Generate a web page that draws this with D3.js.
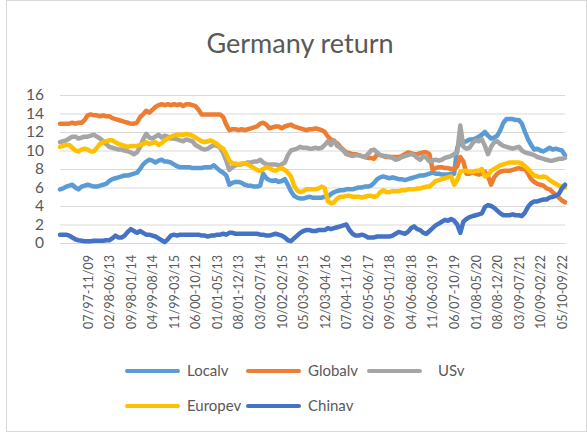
<!DOCTYPE html>
<html><head><meta charset="utf-8">
<script src="https://cdn.jsdelivr.net/npm/d3@7"></script>
<style>
html,body{margin:0;padding:0;background:#fff;}
svg{display:block;font-family:Lato,"Open Sans",sans-serif;}
</style></head>
<body>
<svg id="chart" width="587" height="432"></svg>
<script>
const title = "Germany return";
const seriesNames = ["Localv","Globalv","USv","Europev","Chinav"];
const seriesColors = ["#5B9BD5","#ED7D31","#A5A5A5","#FFC000","#4472C4"];
const tickLabels = ["07/97-11/09","02/98-06/13","09/98-01/14","04/99-08/14","11/99-03/15","06/00-10/12","01/01-05/13","08/01-12/13","03/02-07/14","10/02-02/15","05/03-09/15","12/03-04/16","07/04-11/16","02/05-06/17","09/05-01/18","04/06-08/18","11/06-03/19","06/07-10/19","01/08-05/20","08/08-12/20","03/09-07/21","10/09-02/22","05/10-09/22"];
const firstLabelIndex = 9, labelEvery = 7;
const yTicks = [0,2,4,6,8,10,12,14,16];

const Localv = [5.8,5.9,6.1,6.2,6.3,6.0,5.8,6.1,6.2,6.3,
6.2,6.1,6.1,6.2,6.3,6.4,6.7,6.9,7.0,7.1,
7.2,7.3,7.3,7.4,7.5,7.6,8.0,8.5,8.8,9.0,
8.9,8.7,8.9,9.0,8.8,8.8,8.7,8.5,8.3,8.2,
8.2,8.2,8.2,8.1,8.1,8.1,8.1,8.2,8.2,8.2,
8.4,8.1,7.8,7.6,7.3,6.3,6.5,6.6,6.6,6.5,
6.3,6.2,6.2,6.1,6.1,6.2,7.5,7.0,6.8,6.7,
6.8,6.6,6.7,6.9,6.3,5.6,5.1,4.9,4.8,4.8,
4.9,5.0,4.9,4.9,4.9,4.9,5.0,5.0,5.3,5.5,
5.6,5.7,5.7,5.8,5.8,5.8,5.9,6.0,6.0,6.1,
6.1,6.2,6.5,6.9,7.1,7.2,7.1,7.0,7.1,7.0,
6.9,6.9,6.8,6.9,7.0,7.1,7.2,7.3,7.3,7.4,
7.5,7.6,7.5,7.5,7.4,7.4,7.4,7.5,7.5,10.3,
10.8,10.9,11.0,11.2,11.2,11.3,11.5,11.7,12.0,11.6,
11.3,11.4,11.6,12.2,13.0,13.4,13.4,13.4,13.3,13.3,
12.9,12.0,11.2,10.6,10.1,10.2,10.0,9.9,10.1,10.3,
10.1,10.2,10.1,10.0,9.5];

const Globalv = [12.9,12.9,12.9,12.9,13.0,12.9,13.0,13.0,13.3,13.8,
13.9,13.8,13.8,13.7,13.8,13.7,13.7,13.5,13.4,13.3,
13.2,13.1,13.0,12.9,12.9,13.0,13.6,13.9,14.3,14.1,
14.4,14.7,14.9,15.0,14.9,15.0,14.9,15.0,14.9,15.0,
14.8,15.0,15.0,14.9,14.8,14.4,13.9,13.9,13.9,13.9,
13.9,13.9,13.9,13.6,12.8,12.2,12.3,12.3,12.2,12.3,
12.2,12.3,12.4,12.5,12.6,12.9,13.0,12.8,12.4,12.5,
12.6,12.6,12.4,12.6,12.7,12.8,12.6,12.5,12.4,12.3,
12.2,12.3,12.3,12.4,12.3,12.2,12.0,11.5,11.2,11.0,
10.8,10.4,10.1,9.8,9.7,9.6,9.6,9.5,9.4,9.3,
9.2,9.2,9.1,9.6,9.5,9.4,9.3,9.3,9.3,9.3,
9.3,9.4,9.6,9.8,9.7,9.6,9.6,9.7,9.8,9.8,
9.6,7.9,8.1,8.2,8.2,8.1,8.1,8.0,8.0,8.3,
9.3,8.8,7.5,7.5,7.6,7.5,7.4,7.5,7.7,7.2,
6.3,7.1,7.5,7.7,7.8,7.8,7.8,7.9,8.0,8.1,
8.0,8.0,7.5,6.9,6.6,6.4,6.3,6.2,5.9,5.8,
5.5,5.2,4.9,4.6,4.4];

const USv = [10.9,11.0,11.1,11.3,11.5,11.5,11.3,11.4,11.5,11.5,
11.6,11.7,11.5,11.3,11.0,10.7,10.4,10.3,10.2,10.1,
10.1,10.0,9.9,9.8,9.6,9.8,10.4,11.2,11.8,11.4,
11.3,11.5,11.7,11.4,11.6,11.5,11.3,11.3,11.2,11.1,
11.0,11.2,11.1,11.0,10.6,10.4,10.2,10.1,10.2,10.4,
10.6,10.5,10.3,9.7,8.9,7.9,8.2,8.4,8.5,8.5,
8.6,8.7,8.7,8.8,8.8,9.0,8.7,8.5,8.5,8.5,
8.5,8.4,8.5,8.7,9.5,10.0,10.1,10.2,10.4,10.3,
10.3,10.2,10.2,10.3,10.2,10.3,10.6,11.0,10.6,11.1,
10.5,10.3,10.0,9.6,9.5,9.4,9.5,9.5,9.4,9.3,
9.6,10.0,10.1,9.8,9.5,9.4,9.4,9.3,9.2,9.0,
9.1,9.3,9.4,9.5,9.6,9.5,9.2,9.0,9.4,9.2,
8.8,8.9,9.0,8.9,9.0,9.2,9.3,9.4,9.6,9.8,
12.7,10.4,10.2,10.3,10.8,11.1,11.0,11.2,10.5,9.6,
10.4,10.9,11.0,10.7,10.5,10.4,10.3,10.2,10.3,10.4,
10.0,9.8,9.7,9.6,9.5,9.3,9.2,9.1,9.0,8.9,
8.9,9.0,9.1,9.1,9.2];

const Europev = [10.4,10.5,10.6,10.6,10.3,10.0,9.9,10.1,10.2,10.1,
9.9,9.9,10.3,10.7,10.9,11.0,11.1,11.1,10.9,10.7,
10.6,10.5,10.4,10.5,10.5,10.5,10.6,10.7,10.9,10.7,
10.8,10.9,10.6,10.8,11.1,11.3,11.5,11.6,11.7,11.7,
11.7,11.8,11.7,11.6,11.4,11.2,11.0,10.9,11.0,11.1,
10.9,10.7,10.4,10.2,9.6,8.9,8.6,8.6,8.5,8.6,
8.6,8.5,8.3,8.1,7.9,7.8,8.0,8.2,8.1,7.9,
7.8,8.0,8.1,7.9,7.6,7.2,6.2,5.7,5.5,5.6,
5.8,5.8,5.8,5.8,5.9,6.1,5.9,4.5,4.3,4.4,
4.8,5.0,5.0,5.1,5.1,5.0,5.0,5.0,4.9,5.0,
5.1,5.1,5.0,5.1,5.5,5.7,5.5,5.5,5.6,5.6,
5.6,5.7,5.7,5.8,5.8,5.8,5.9,5.9,6.0,6.1,
6.1,6.4,6.7,6.8,6.9,7.0,7.1,7.2,6.3,6.8,
7.7,7.8,7.8,7.7,7.7,7.8,7.8,8.0,7.2,7.3,
7.8,8.0,8.2,8.4,8.5,8.6,8.7,8.7,8.7,8.7,
8.6,8.3,8.0,7.6,7.3,7.2,7.1,7.2,7.1,6.8,
6.6,6.4,6.2,6.1,6.0];

const Chinav = [0.9,0.9,0.9,0.8,0.6,0.4,0.3,0.25,0.2,0.2,
0.2,0.25,0.25,0.25,0.25,0.3,0.3,0.5,0.8,0.6,
0.6,0.8,1.2,1.5,1.3,1.1,1.3,1.1,0.9,0.9,
0.8,0.7,0.5,0.3,0.1,0.4,0.8,0.9,0.8,0.9,
0.9,0.9,0.9,0.9,0.9,0.9,0.8,0.8,0.7,0.8,
0.8,0.9,0.9,1.0,0.9,1.1,1.1,1.0,1.0,1.0,
1.0,1.0,1.0,1.0,1.0,0.9,0.9,0.8,0.8,0.9,
1.0,0.9,0.8,0.6,0.3,0.2,0.5,0.8,1.1,1.3,
1.4,1.4,1.3,1.3,1.4,1.4,1.4,1.6,1.5,1.6,
1.7,1.8,1.9,2.0,1.4,1.0,0.8,0.8,0.9,0.8,
0.6,0.6,0.6,0.7,0.7,0.7,0.7,0.7,0.8,1.0,
1.2,1.1,1.0,1.2,1.6,1.8,1.5,1.4,1.1,1.0,
1.3,1.6,1.9,2.1,2.3,2.5,2.4,2.6,2.4,2.0,
1.1,2.3,2.6,2.8,2.9,3.0,3.1,3.2,3.9,4.1,
4.0,3.8,3.5,3.2,3.0,3.0,3.0,3.1,3.0,3.0,
2.9,3.3,3.9,4.3,4.5,4.5,4.6,4.7,4.7,4.9,
5.0,5.1,5.3,5.9,6.3];

const seriesData = [Localv, Globalv, USv, Europev, Chinav];
const n = Localv.length;
const categories = d3.range(n);
const tickIndices = tickLabels.map((_, k) => firstLabelIndex + k * labelEvery);

const svg = d3.select("#chart");
const textColor = "#595959";
const gridColor = "#d9d9d9";

svg.append("rect").attr("x",6.5).attr("y",0.5).attr("width",580).attr("height",431)
  .attr("fill","#fff").attr("stroke",gridColor).attr("stroke-width",1);

const mLeft = 60, mRight = 565, mTop = 95, mBottom = 243;
const x = d3.scalePoint().domain(categories).range([mLeft, mRight]);
const y = d3.scaleLinear().domain([0,16]).range([mBottom, mTop]);

svg.append("text").attr("x",300).attr("y",53).attr("text-anchor","middle")
  .attr("font-size",27).attr("fill",textColor).text(title);

// gridlines + y labels
const yAxis = d3.axisLeft(y).tickValues(yTicks).tickSize(-(mRight-mLeft)).tickPadding(16);
const gy = svg.append("g").attr("transform",`translate(${mLeft},0)`).call(yAxis);
gy.select(".domain").remove();
gy.selectAll(".tick line").attr("stroke",gridColor).attr("stroke-width",1);
gy.selectAll(".tick text").attr("fill",textColor).attr("font-size",15.5).attr("font-family","Lato,sans-serif");

// x axis
const xAxis = d3.axisBottom(x).tickValues(tickIndices)
  .tickFormat(d => tickLabels[(d - firstLabelIndex) / labelEvery]).tickSize(0).tickPadding(0);
const gx = svg.append("g").attr("transform",`translate(0,${mBottom})`).call(xAxis);
gx.select(".domain").attr("stroke",gridColor);
gx.selectAll(".tick text").attr("fill",textColor).attr("font-size",12.5).attr("font-family","Lato,sans-serif")
  .attr("text-anchor","end").attr("transform","rotate(-90)").attr("x",-12).attr("y",0).attr("dy","0.35em");

// lines
const line = d3.line().x((d,i) => x(i)).y(d => y(d));
seriesData.forEach((s, k) => {
  svg.append("path").datum(s).attr("d", line).attr("fill","none")
    .attr("stroke", seriesColors[k]).attr("stroke-width",4.5)
    .attr("stroke-linejoin","round").attr("stroke-linecap","round");
});

// legend
const legendPos = [[125,371],[246,371],[367,371],[125,406],[246,406]];
const legendTextX = [187,308,438,187,308];
seriesNames.forEach((name,k) => {
  const [lx,ly] = legendPos[k];
  svg.append("line").attr("x1",lx+2).attr("x2",lx+53).attr("y1",ly).attr("y2",ly)
    .attr("stroke",seriesColors[k]).attr("stroke-width",4).attr("stroke-linecap","round");
  svg.append("text").attr("x",legendTextX[k]).attr("y",ly).attr("dy","0.35em")
    .attr("font-size",15).attr("fill",textColor).text(name);
});
</script>
</body></html>
